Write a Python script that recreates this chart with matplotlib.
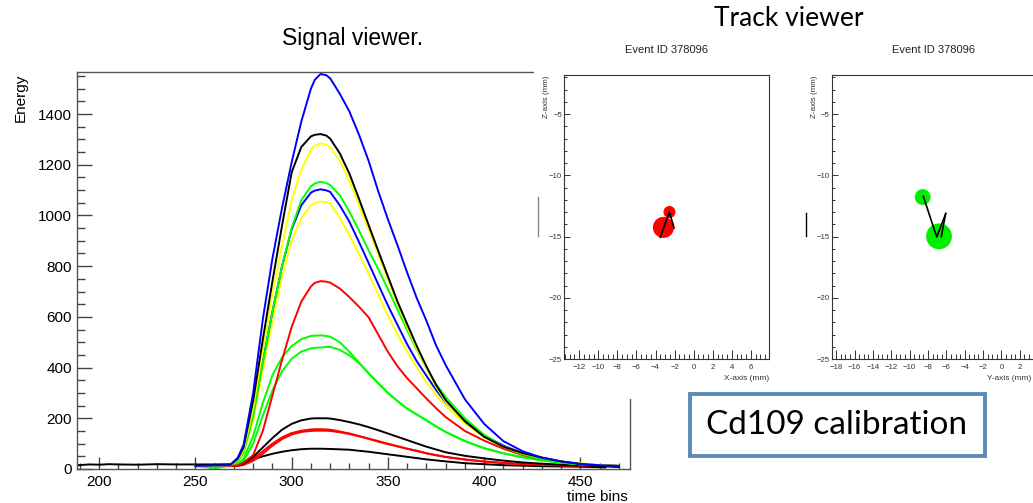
import matplotlib
matplotlib.use("Agg")
import matplotlib.pyplot as plt
from matplotlib.ticker import MultipleLocator
from matplotlib.patches import Rectangle
from matplotlib.lines import Line2D

# ---------------- data ----------------
time_bins = [250, 260, 268, 272, 275, 280, 285, 290, 295, 300, 305, 310, 312, 315, 318, 320, 325, 330,
             335, 340, 345, 350, 355, 360, 365, 370, 375, 380, 390, 400, 410, 420, 430, 440, 450,
             460, 470]

blue_1 = [12, 14, 15, 45, 95, 300, 590, 830, 1030, 1210, 1370, 1500, 1535, 1558, 1553, 1541, 1480,
          1410, 1318, 1215, 1095, 985, 882, 775, 674, 585, 488, 410, 275, 178, 110, 70, 45, 30, 20,
          15, 12]
black_1 = [16, 16, 16, 40, 85, 270, 510, 740, 960, 1170, 1270, 1312, 1318, 1321, 1315, 1303, 1245,
           1165, 1065, 962, 860, 760, 660, 572, 485, 405, 332, 272, 188, 127, 88, 63, 45, 30, 20,
           12, 8]
yellow_1 = [14, 14, 15, 35, 75, 240, 470, 690, 880, 1060, 1180, 1260, 1275, 1284, 1279, 1268, 1215,
            1135, 1040, 945, 845, 748, 650, 560, 475, 395, 325, 265, 182, 125, 88, 62, 45, 30, 22,
            15, 12]
green_1 = [14, 13, 15, 30, 65, 210, 420, 620, 800, 950, 1060, 1115, 1126, 1133, 1128, 1120, 1080,
           1015, 940, 862, 788, 710, 628, 548, 470, 398, 335, 284, 200, 135, 88, 58, 38, 25, 18,
           14, 12]
blue_2 = [15, 15, 16, 32, 70, 215, 425, 620, 800, 945, 1040, 1090, 1098, 1103, 1099, 1093, 1040,
          975, 895, 812, 728, 645, 568, 492, 425, 368, 312, 263, 190, 132, 92, 62, 42, 28, 20,
          14, 12]
yellow_2 = [14, 14, 15, 30, 60, 190, 390, 580, 760, 900, 990, 1040, 1049, 1055, 1052, 1048, 990,
            922, 848, 770, 688, 605, 530, 464, 402, 342, 292, 248, 180, 127, 90, 62, 45, 30, 22,
            15, 12]
red_1 = [12, 12, 12, 14, 25, 55, 150, 290, 430, 560, 660, 720, 734, 741, 739, 735, 712, 678,
         640, 598, 530, 462, 405, 358, 318, 278, 240, 205, 150, 112, 80, 55, 38, 28, 20, 15, 12]
green_2 = [14, 2, 14, 20, 40, 130, 260, 370, 440, 485, 512, 525, 526, 527, 525, 522, 500, 462,
           420, 376, 338, 300, 268, 238, 215, 192, 168, 146, 110, 82, 62, 46, 34, 25, 19, 15, 12]
green_3 = [14, 12, 14, 18, 32, 100, 210, 310, 385, 435, 463, 476, 478, 479, 481, 482, 470, 448,
           418, 378, 338, 300, 268, 238, 215, 192, 168, 146, 110, 82, 62, 46, 34, 25, 19, 15, 12]
black_2 = [14, 14, 14, 14, 22, 48, 85, 122, 155, 178, 192, 199, 200, 200, 200, 199, 193, 185,
           176, 165, 153, 140, 127, 114, 101, 88, 77, 66, 52, 42, 33, 26, 21, 17, 14, 12, 10]
red_2 = [12, 12, 12, 12, 20, 40, 70, 100, 125, 142, 151, 156, 157, 157, 156, 155, 148, 140,
         130, 120, 110, 100, 90, 80, 72, 62, 55, 48, 38, 30, 24, 20, 17, 15, 14, 13, 12]
red_3 = [11, 11, 11, 12, 16, 32, 60, 92, 118, 136, 146, 150, 151, 151, 151, 150, 145, 138,
         129, 119, 108, 98, 89, 80, 71, 62, 54, 47, 37, 29, 23, 19, 16, 14, 13, 12, 12]

time_bins_long = [189, 195, 200, 205, 210, 220, 230, 240, 250, 260, 268, 272, 275, 280, 285, 290,
                  295, 300, 305, 310, 315, 320, 330, 340, 350, 360, 370, 380, 390, 400, 410, 420,
                  430, 440, 450, 460, 463]
black_3 = [15, 18, 17, 19, 18, 17, 19, 18, 18, 18, 19, 22, 26, 38, 50, 60, 68, 74, 78, 80, 80, 79,
           76, 68, 58, 48, 38, 30, 23, 19, 15, 13, 11, 10, 9, 7, 6]

signal_series = [
    (time_bins_long, black_3, "#000000"),
    (time_bins, red_3, "#ff0000"),
    (time_bins, red_2, "#ff0000"),
    (time_bins, black_2, "#000000"),
    (time_bins, green_3, "#00ff00"),
    (time_bins, green_2, "#00ff00"),
    (time_bins, red_1, "#ff0000"),
    (time_bins, yellow_2, "#ffff00"),
    (time_bins, blue_2, "#0000ff"),
    (time_bins, green_1, "#00ff00"),
    (time_bins, yellow_1, "#ffff00"),
    (time_bins, black_1, "#000000"),
    (time_bins, blue_1, "#0000ff"),
]

# track viewer (X-Z projection)
xz_hit_x = [-3.17, -2.54]
xz_hit_z = [-14.25, -12.99]
xz_hit_size = [230, 75]
xz_track_x = [-3.5, -2.55, -2.05]
xz_track_z = [-15.05, -13.0, -14.3]

# track viewer (Y-Z projection)
yz_hit_y = [-8.58, -6.80]
yz_hit_z = [-11.77, -14.98]
yz_hit_size = [130, 345]
yz_track_y = [-8.51, -7.05, -6.05]
yz_track_z = [-11.72, -15.03, -13.1]
yz_track2_y = [-6.55, -6.1]
yz_track2_z = [-15.0, -13.2]

event_title = "Event ID 378096"

# ---------------- figure ----------------
W, H = 1033, 503
fig = plt.figure(figsize=(W / 100, H / 100), dpi=100)
fig.patch.set_facecolor("white")


def fx(x):
    return x / W


def fy(y):
    return 1 - y / H


ROOT_FONT = "Liberation Sans"
SLIDE_FONT = "Lato"

# Signal viewer axes
ax = fig.add_axes([fx(76.7), fy(469), (630 - 76.7) / W, (469 - 71.7) / H])
for xs, vals, col in signal_series:
    ax.plot(xs, vals, color=col, lw=1.4, solid_joinstyle="round")

ax.set_xlim(188.3, 475.8)
ax.set_ylim(0, 1567)
ax.xaxis.set_major_locator(MultipleLocator(50))
ax.xaxis.set_minor_locator(MultipleLocator(10))
ax.yaxis.set_major_locator(MultipleLocator(200))
ax.yaxis.set_minor_locator(MultipleLocator(50))
ax.tick_params(which="both", direction="in", top=False, right=False, color="#444444", width=1.0)
ax.tick_params(axis="x", which="major", length=8.6, pad=4.3, labelsize=11)
ax.tick_params(axis="x", which="minor", length=4.3)
ax.tick_params(axis="y", which="major", length=10.8, pad=3.4, labelsize=11)
ax.tick_params(axis="y", which="minor", length=5.8)
for lab in ax.get_xticklabels() + ax.get_yticklabels():
    lab.set_fontfamily(ROOT_FONT)
for s in ax.spines.values():
    s.set_color("#555555")
    s.set_linewidth(1.0)

fig.text(fx(21), fy(74), "Energy", rotation=90, ha="center", va="top", fontsize=11, family=ROOT_FONT)
fig.text(fx(628), fy(497), "time bins", ha="right", va="center", fontsize=11, family=ROOT_FONT)
fig.text(fx(353), fy(38), "Signal viewer.", ha="center", va="center", fontsize=16.5, family=ROOT_FONT)

# white panel for the track viewer
fig.add_artist(Rectangle((fx(534), fy(399)), (W - 534) / W, 399 / H, transform=fig.transFigure,
                         facecolor="white", edgecolor="none", zorder=1))


def style_track(a):
    a.set_zorder(2)
    a.set_ylim(-25, -1.8)
    a.yaxis.set_major_locator(MultipleLocator(5))
    a.yaxis.set_minor_locator(MultipleLocator(1))
    a.xaxis.set_major_locator(MultipleLocator(2))
    a.xaxis.set_minor_locator(MultipleLocator(0.5))
    a.tick_params(which="both", direction="in", top=False, right=False, color="#333333", width=0.7,
                  labelsize=5.6, labelcolor="#333333")
    a.tick_params(axis="x", which="major", length=6.5, pad=3.6)
    a.tick_params(axis="x", which="minor", length=3.3)
    a.tick_params(axis="y", which="major", length=4.4, pad=1.5)
    a.tick_params(axis="y", which="minor", length=2.2)
    for lab in a.get_xticklabels() + a.get_yticklabels():
        lab.set_fontfamily(ROOT_FONT)
    for s in a.spines.values():
        s.set_color("#333333")
        s.set_linewidth(0.8)


axL = fig.add_axes([fx(564), fy(359), 205 / W, 284 / H])
axL.set_xlim(-13.6, 7.9)
style_track(axL)
axL.scatter(xz_hit_x, xz_hit_z, s=xz_hit_size, color="#ff0000", edgecolors="none", zorder=2)
axL.plot(xz_track_x, xz_track_z, color="black", lw=1.2, zorder=3)

axR = fig.add_axes([fx(831.7), fy(359), 205 / W, 284 / H])
axR.set_xlim(-18.5, 3.85)
style_track(axR)
axR.scatter(yz_hit_y, yz_hit_z, s=yz_hit_size, color="#00ee00", edgecolors="none", zorder=2)
axR.plot(yz_track_y, yz_track_z, color="black", lw=1.2, zorder=3)
axR.plot(yz_track2_y, yz_track2_z, color="black", lw=1.2, zorder=3)

for cx in (666.7, 933.8):
    fig.text(fx(cx), fy(50), event_title, ha="center", va="center", fontsize=8.0, family=ROOT_FONT,
             color="#222222")
fig.text(fx(546.5), fy(75), "Z-axis (mm)", rotation=90, ha="center", va="top", fontsize=5.8,
         family=ROOT_FONT, color="#333333")
fig.text(fx(814.5), fy(75), "Z-axis (mm)", rotation=90, ha="center", va="top", fontsize=5.8,
         family=ROOT_FONT, color="#333333")
fig.text(fx(769), fy(378), "X-axis (mm)", ha="right", va="center", fontsize=6.0, family=ROOT_FONT,
         color="#333333")
fig.text(fx(1031), fy(378), "Y-axis (mm)", ha="right", va="center", fontsize=6.0, family=ROOT_FONT,
         color="#333333")

fig.add_artist(Line2D([fx(538), fx(538)], [fy(197), fy(236)], transform=fig.transFigure,
                      color="#888888", lw=1.0, zorder=3))
fig.add_artist(Line2D([fx(806), fx(806)], [fy(213), fy(236)], transform=fig.transFigure,
                      color="#000000", lw=1.0, zorder=3))

fig.text(fx(789), fy(18), "Track viewer", ha="center", va="center", fontsize=19, family=SLIDE_FONT)

# Cd109 calibration box
fig.add_artist(Rectangle((fx(689.7), fy(456.3)), (984.7 - 689.7) / W, (456.3 - 394.3) / H,
                         transform=fig.transFigure, facecolor="white", edgecolor="#5b8bb5",
                         lw=2.8, zorder=4))
fig.text(fx(836.5), fy(425), "Cd109 calibration", ha="center", va="center", fontsize=24,
         family=SLIDE_FONT, zorder=5)

fig.savefig("out.png", dpi=100, facecolor="white")
